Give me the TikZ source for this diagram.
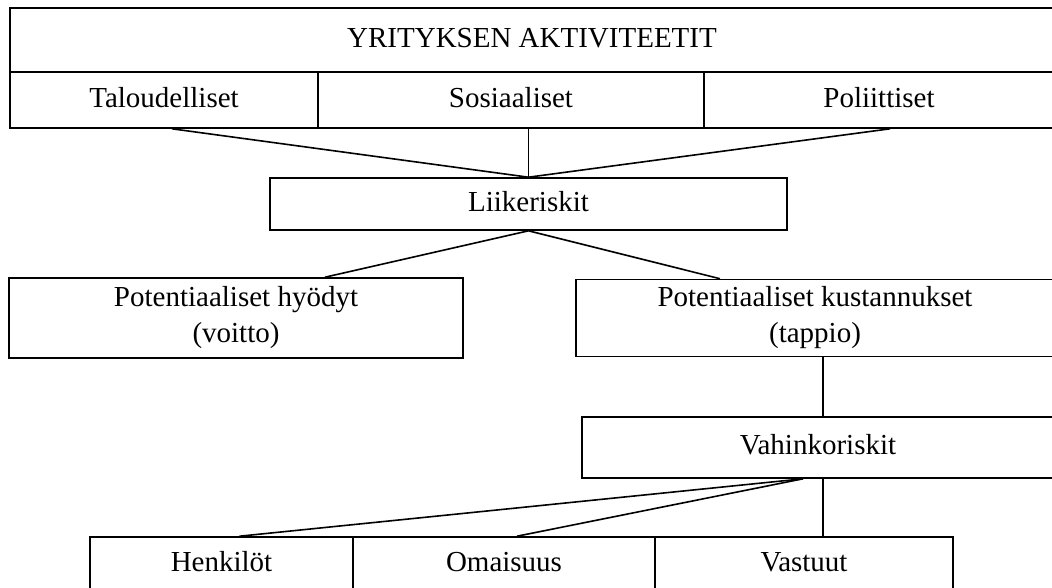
\documentclass[tikz,border=0pt]{standalone}
\usepackage{fontspec}
\setmainfont{Liberation Serif}
\usepackage{tikz}

\begin{document}
\begin{tikzpicture}[
   x=1pt,y=-1pt,
   font=\fontsize{29}{36}\selectfont,
   box/.style={draw,line width=1.6pt,inner sep=0pt,align=center,text height=20pt,text depth=6pt},
   twoline/.style={text height=,text depth=},
   link/.style={line width=1.6pt}]
\useasboundingbox (0,0) rectangle (1052,587);
% ylin taso
\node[box,minimum width=1044,minimum height=64] (aktiviteetit) at (532,40) {YRITYKSEN AKTIVITEETIT};
\node[box,minimum width=308,minimum height=56] (taloudelliset) at (164,100) {Taloudelliset};
\node[box,minimum width=386,minimum height=56] (sosiaaliset) at (511,100) {Sosiaaliset};
\node[box,minimum width=350,minimum height=56] (poliittiset) at (879,100) {Poliittiset};
\node[box,minimum width=517,minimum height=52] (liikeriskit) at (528.5,204) {Liikeriskit};
% hyodyt ja kustannukset
\node[box,twoline,minimum width=454,minimum height=80] (hyodyt) at (236,318) {Potentiaaliset hyödyt\\(voitto)};
\node[box,twoline,minimum width=478,minimum height=77] (kustannukset) at (815,318) {Potentiaaliset kustannukset\\(tappio)};
\node[box,minimum width=472,minimum height=61] (vahinkoriskit) at (818,447.5) {Vahinkoriskit};
% alin taso
\node[box,minimum width=263,minimum height=54] (henkilot) at (221.5,564) {Henkilöt};
\node[box,minimum width=302,minimum height=54] (omaisuus) at (504,564) {Omaisuus};
\node[box,minimum width=298,minimum height=54] (vastuut) at (804,564) {Vastuut};
\draw[link] ([xshift=8]taloudelliset.south) -- (liikeriskit.north);
\draw[link] (liikeriskit.north) -- (liikeriskit.north |- sosiaaliset.south);
\draw[link] ([xshift=11]poliittiset.south) -- (liikeriskit.north);
\draw[link] (liikeriskit.south) -- ([xshift=89]hyodyt.north);
\draw[link] (liikeriskit.south) -- ([xshift=-95]kustannukset.north);
\draw[link] ([xshift=8]kustannukset.south) -- ([xshift=5]vahinkoriskit.north);
\draw[link] ([xshift=-15]vahinkoriskit.south) -- ([xshift=18]henkilot.north);
\draw[link] ([xshift=-15]vahinkoriskit.south) -- ([xshift=13]omaisuus.north);
\draw[link] ([xshift=5]vahinkoriskit.south) -- ([xshift=19]vastuut.north);
\end{tikzpicture}
\end{document}
